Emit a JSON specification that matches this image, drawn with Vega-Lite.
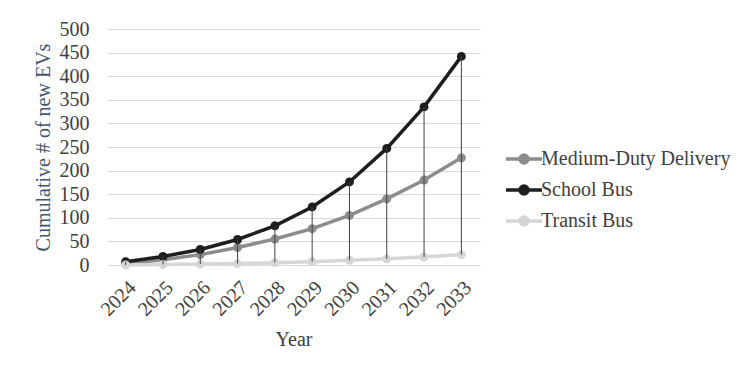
{
  "$schema": "https://vega.github.io/schema/vega-lite/v6.json",
  "autosize": "none",
  "width": 373,
  "height": 236,
  "padding": {"left": 107, "top": 29, "right": 276, "bottom": 113},
  "background": "white",
  "config": {
    "font": "Liberation Serif",
    "view": {"stroke": null},
    "axis": {
      "labelFont": "Liberation Serif",
      "titleFont": "Liberation Serif",
      "labelColor": "#404040",
      "titleColor": "#404040",
      "labelFontSize": 20,
      "titleFontSize": 20,
      "titleFontWeight": "normal",
      "ticks": false,
      "gridColor": "#d9d9d9",
      "gridWidth": 1,
      "labelOverlap": false
    },
    "legend": {
      "labelFont": "Liberation Serif",
      "labelFontSize": 20,
      "labelColor": "#404040",
      "labelLimit": 0
    }
  },
  "data": {
    "values": [
      {"year": "2024", "Medium-Duty Delivery": 3, "School Bus": 7, "Transit Bus": 0},
      {"year": "2025", "Medium-Duty Delivery": 11, "School Bus": 18, "Transit Bus": 1},
      {"year": "2026", "Medium-Duty Delivery": 22, "School Bus": 33, "Transit Bus": 2},
      {"year": "2027", "Medium-Duty Delivery": 37, "School Bus": 54, "Transit Bus": 3},
      {"year": "2028", "Medium-Duty Delivery": 55, "School Bus": 83, "Transit Bus": 5},
      {"year": "2029", "Medium-Duty Delivery": 77, "School Bus": 123, "Transit Bus": 7},
      {"year": "2030", "Medium-Duty Delivery": 105, "School Bus": 176, "Transit Bus": 10},
      {"year": "2031", "Medium-Duty Delivery": 140, "School Bus": 247, "Transit Bus": 13},
      {"year": "2032", "Medium-Duty Delivery": 180, "School Bus": 335, "Transit Bus": 17},
      {"year": "2033", "Medium-Duty Delivery": 227, "School Bus": 442, "Transit Bus": 22}
    ]
  },
  "layer": [
    {
      "transform": [{"fold": ["Medium-Duty Delivery", "School Bus", "Transit Bus"], "as": ["series", "value"]}],
      "mark": {"type": "line", "strokeWidth": 3.5, "point": {"size": 80, "filled": true, "opacity": 1}},
      "encoding": {
        "x": {
          "field": "year", "type": "ordinal",
          "axis": {"title": "Year", "labelAngle": -45, "domainColor": "#d9d9d9", "labelPadding": 12, "titlePadding": 10}
        },
        "y": {
          "field": "value", "type": "quantitative",
          "scale": {"domain": [0, 500], "nice": false},
          "axis": {"title": "Cumulative # of new EVs", "values": [0,50,100,150,200,250,300,350,400,450,500], "labelOverlap": false, "domain": false, "labelPadding": 18, "titlePadding": 6, "titleColor": "#44546a"}
        },
        "color": {
          "field": "series", "type": "nominal",
          "scale": {"domain": ["Medium-Duty Delivery", "School Bus", "Transit Bus"], "range": ["#8c8c8c", "#1e1e1e", "#d6d6d6"]},
          "legend": {
            "title": null,
            "orient": "none",
            "legendX": 407,
            "legendY": 120,
            "padding": 0,
            "symbolType": "M-2.5,0L2.5,0M-0.55,0A0.55,0.55 0 1,0 0.55,0A0.55,0.55 0 1,0 -0.55,0Z",
            "symbolSize": 207,
            "symbolStrokeWidth": 3.5,
            "labelOffset": 7,
            "labelLimit": 0,
            "rowPadding": 9,
            "encode": {
              "symbols": {"update": {"fill": {"scale": "color", "field": "value"}, "stroke": {"scale": "color", "field": "value"}, "opacity": {"value": 1}}}
            }
          }
        }
      }
    },
    {
      "mark": {"type": "rule", "color": "#404040", "strokeWidth": 1},
      "encoding": {
        "x": {"field": "year", "type": "ordinal", "axis": {"title": "Year", "labelAngle": -45, "domainColor": "#d9d9d9", "labelPadding": 12, "titlePadding": 10}},
        "y": {"field": "Transit Bus", "type": "quantitative", "scale": {"domain": [0, 500], "nice": false},
          "axis": {"title": "Cumulative # of new EVs", "values": [0,50,100,150,200,250,300,350,400,450,500], "labelOverlap": false, "domain": false, "labelPadding": 18, "titlePadding": 6, "titleColor": "#44546a"}},
        "y2": {"field": "School Bus"}
      }
    }
  ]
}
